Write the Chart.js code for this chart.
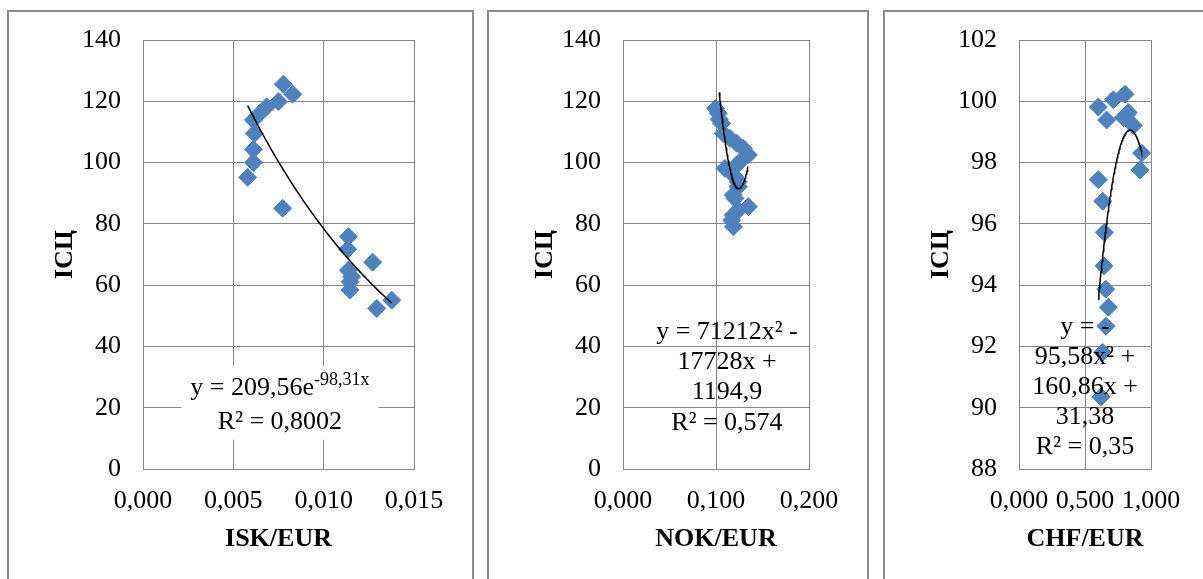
<!DOCTYPE html>
<html>
<head>
<meta charset="utf-8">
<script src="https://cdn.jsdelivr.net/npm/chart.js@4"></script>
<style>
  body { margin: 0; background: #fff; width: 1203px; height: 579px; overflow: hidden; position: relative; }
  .panel { position: absolute; top: 0; height: 579px; }
  .frame { position: absolute; top: 10px; height: 590px; box-sizing: border-box; border: 2px solid #8c8c8c; border-bottom: none; pointer-events: none; }
</style>
</head>
<body>
<div class="panel" style="left:8px;width:465px"><canvas id="isk"></canvas></div>
<div class="panel" style="left:488px;width:380px"><canvas id="nok"></canvas></div>
<div class="panel" style="left:884px;width:380px"><canvas id="chf"></canvas></div>
<div class="frame" style="left:7px;width:467px"></div>
<div class="frame" style="left:487px;width:382px"></div>
<div class="frame" style="left:883px;width:400px"></div>
<script>
// ISK/EUR vs ІСЦ
const iskRate = [0.00777, 0.00829, 0.00749, 0.00685, 0.00648, 0.00611, 0.00616, 0.00611, 0.00611, 0.00579,
  0.00773, 0.01137, 0.01133, 0.01271, 0.01137, 0.01155, 0.01146, 0.01146, 0.01377, 0.01294];
const iskCpi = [125.6, 122.3, 119.9, 118.2, 116.1, 113.9, 109.5, 104.3, 100.0, 95.2,
  85.1, 75.8, 71.7, 67.5, 64.9, 62.7, 61.1, 58.4, 55.1, 52.4];
const iskTrend = [209.56, -98.31];            // y = a * e^(b x)
const iskXTicks = [0, 0.005, 0.010, 0.015];
const iskYTicks = [0, 20, 40, 60, 80, 100, 120, 140];

// NOK/EUR vs ІСЦ
const nokRate = [0.0995, 0.1025, 0.1035, 0.1061, 0.1078, 0.1150, 0.1222, 0.1294, 0.1348, 0.1276, 0.1222,
  0.1097, 0.1204, 0.1240, 0.1240, 0.1186, 0.1204, 0.1348, 0.1240, 0.1186, 0.1168, 0.1186];
const nokCpi = [117.7, 116.1, 114.1, 112.8, 109.5, 107.9, 106.3, 104.6, 102.5, 100.8, 99.2,
  98.1, 95.4, 93.7, 92.1, 89.4, 88.3, 85.6, 84.5, 82.9, 81.2, 79.1];
const nokTrend = [71212, -17728, 1194.9];     // y = a x^2 + b x + c
const nokTrendRange = [0.1035, 0.1345];
const nokXTicks = [0, 0.1, 0.2];
const nokYTicks = [0, 20, 40, 60, 80, 100, 120, 140];

// CHF/EUR vs ІСЦ
const chfRate = [0.601, 0.664, 0.715, 0.803, 0.828, 0.866, 0.790, 0.929, 0.917, 0.601,
  0.634, 0.646, 0.644, 0.657, 0.677, 0.659, 0.634, 0.621];
const chfCpi = [99.81, 99.39, 100.05, 100.23, 99.63, 99.21, 99.47, 98.31, 97.76, 97.44,
  96.74, 95.72, 94.63, 93.87, 93.28, 92.66, 91.80, 90.35];
const chfTrend = [-95.58, 160.86, 31.38];
const chfXTicks = [0, 0.5, 1.0];
const chfYTicks = [88, 90, 92, 94, 96, 98, 100, 102];

const serif = "'Liberation Serif', 'Times New Roman', serif";
const gridColor = '#868686';
const markerColor = '#4F81BD';

function sample(fn, from, to) {
  const pts = [];
  for (let i = 0; i <= 80; i++) {
    const x = from + (to - from) * i / 80;
    pts.push({ x, y: fn(x) });
  }
  return pts;
}

const eqLabel = {
  id: 'eqLabel',
  afterDatasetsDraw(chart, args, opts) {
    const { ctx, scales } = chart;
    const cx = scales.x.getPixelForValue(opts.x);
    const cy = scales.y.getPixelForValue(opts.y);
    const base = '26px ' + serif;
    const sup = '18px ' + serif;
    ctx.save();
    const widths = opts.lines.map(line => line.reduce((w, [t, s]) => {
      ctx.font = s ? sup : base;
      return w + ctx.measureText(t).width;
    }, 0));
    if (opts.background) {
      const maxW = Math.max(...widths);
      ctx.fillStyle = '#fff';
      ctx.fillRect(cx - maxW / 2 - 9, cy - opts.lineHeight / 2 - 5, maxW + 18, opts.lineHeight * opts.lines.length + 6);
    }
    ctx.fillStyle = '#000';
    ctx.textBaseline = 'middle';
    ctx.textAlign = 'left';
    opts.lines.forEach((line, i) => {
      let x = cx - widths[i] / 2;
      const y = cy + i * opts.lineHeight;
      line.forEach(([t, s]) => {
        ctx.font = s ? sup : base;
        ctx.fillText(t, x, s ? y - 8 : y);
        x += ctx.measureText(t).width;
      });
    });
    ctx.restore();
  }
};

function makeChart(id, cfg) {
  const tickFont = { family: serif, size: 26 };
  const titleFont = { family: serif, size: 26, weight: 'bold' };
  return new Chart(document.getElementById(id), {
    type: 'scatter',
    data: {
      datasets: [
        {
          type: 'line',
          data: cfg.trend,
          borderColor: '#000',
          borderWidth: 1.5,
          pointRadius: 0,
          tension: 0,
          fill: false
        },
        {
          data: cfg.points,
          pointStyle: 'rectRot',
          pointRadius: 9,
          pointBackgroundColor: markerColor,
          pointBorderColor: markerColor,
          pointBorderWidth: 1
        }
      ]
    },
    options: {
      responsive: true,
      maintainAspectRatio: false,
      animation: false,
      events: [],
      layout: { padding: { top: 40, right: cfg.padRight, bottom: 0, left: 0 } },
      plugins: {
        legend: { display: false },
        tooltip: { enabled: false },
        eqLabel: cfg.label
      },
      scales: {
        x: {
          type: 'linear',
          min: cfg.xTicks[0],
          max: cfg.xTicks[cfg.xTicks.length - 1],
          afterBuildTicks: s => { s.ticks = cfg.xTicks.map(v => ({ value: v })); },
          afterFit: s => { s.height = 110; },
          grid: { color: gridColor, lineWidth: 1, drawTicks: false },
          border: { display: true, color: gridColor, width: 1 },
          ticks: {
            font: tickFont, color: '#000', padding: 17, autoSkip: false,
            maxRotation: 0, minRotation: 0,
            callback: v => v.toFixed(3).replace('.', ',')
          },
          title: { display: true, text: cfg.xTitle, font: titleFont, color: '#000', padding: { top: 0, bottom: 24 } }
        },
        y: {
          min: cfg.yTicks[0],
          max: cfg.yTicks[cfg.yTicks.length - 1],
          afterBuildTicks: s => { s.ticks = cfg.yTicks.map(v => ({ value: v })); },
          afterFit: s => { s.width = 135; },
          grid: { color: gridColor, lineWidth: 1, drawTicks: false },
          border: { display: true, color: gridColor, width: 1 },
          ticks: { font: tickFont, color: '#000', padding: 22 },
          title: { display: true, text: 'ІСЦ', font: titleFont, color: '#000', padding: { top: 42, bottom: 0 } }
        }
      }
    },
    plugins: [eqLabel]
  });
}

makeChart('isk', {
  points: iskRate.map((x, i) => ({ x, y: iskCpi[i] })),
  trend: sample(x => iskTrend[0] * Math.exp(iskTrend[1] * x), Math.min(...iskRate), Math.max(...iskRate)),
  xTicks: iskXTicks, yTicks: iskYTicks, xTitle: 'ISK/EUR', padRight: 59,
  label: {
    x: 0.00758, y: 26.5, lineHeight: 34, background: true,
    lines: [[['y = 209,56e', false], ['-98,31x', true]], [['R² = 0,8002', false]]]
  }
});

makeChart('nok', {
  points: nokRate.map((x, i) => ({ x, y: nokCpi[i] })),
  trend: sample(x => nokTrend[0] * x * x + nokTrend[1] * x + nokTrend[2], nokTrendRange[0], nokTrendRange[1]),
  xTicks: nokXTicks, yTicks: nokYTicks, xTitle: 'NOK/EUR', padRight: 59,
  label: {
    x: 0.1118, y: 44.7, lineHeight: 30.3, background: false,
    lines: [[['y = 71212x² -', false]], [['17728x +', false]], [['1194,9', false]], [['R² = 0,574', false]]]
  }
});

makeChart('chf', {
  points: chfRate.map((x, i) => ({ x, y: chfCpi[i] })),
  trend: sample(x => chfTrend[0] * x * x + chfTrend[1] * x + chfTrend[2], Math.min(...chfRate), Math.max(...chfRate)),
  xTicks: chfXTicks, yTicks: chfYTicks, xTitle: 'CHF/EUR', padRight: 113,
  label: {
    x: 0.5, y: 92.63, lineHeight: 30, background: false,
    lines: [[['y = -', false]], [['95,58x² +', false]], [['160,86x +', false]], [['31,38', false]], [['R² = 0,35', false]]]
  }
});
</script>
</body>
</html>
